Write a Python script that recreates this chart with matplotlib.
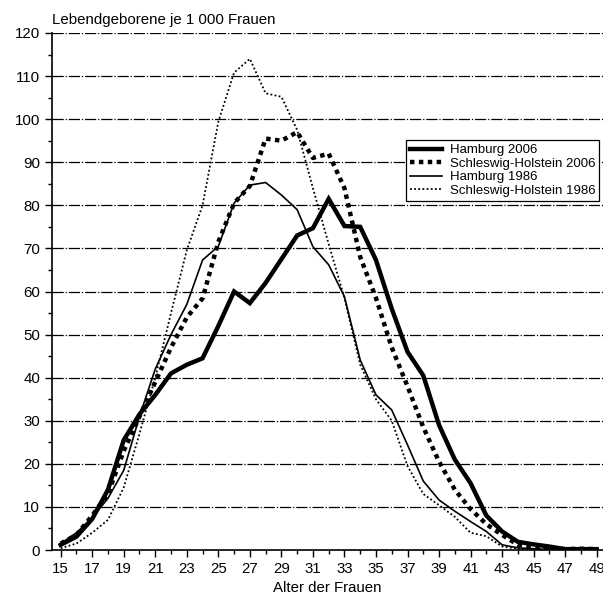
import matplotlib.pyplot as plt
from matplotlib.ticker import MultipleLocator

plt.rcParams['font.family'] = ['Liberation Sans', 'DejaVu Sans']

# Daten: Lebendgeborene je 1 000 Frauen nach Alter
alter = list(range(15, 50))

hamburg_2006 = [1.2, 3.1, 7.2, 14, 25.5, 31.5, 36, 41, 43, 44.5,
                52, 60, 57.3, 62, 67.5, 73, 74.7, 81.5, 75.2, 75,
                67.3, 56, 46, 40.5, 29, 21, 15.5, 8, 4.3, 1.9,
                1.3, 0.8, 0.2, 0.2, 0.2]
sh_2006 = [1.5, 3.5, 8, 13, 23, 31, 39, 47, 54, 58.4,
           71.5, 80.5, 84.5, 95.5, 95, 97, 91, 92, 84, 68,
           58.5, 47, 38, 28.5, 20.5, 14, 9.5, 6, 3.5, 1.2,
           0.8, 0.5, 0.2, 0.3, 0.2]
hamburg_1986 = [1.5, 4, 7.5, 12, 18.5, 31, 42, 50, 57, 67.3,
                70.5, 80.5, 84.7, 85.3, 82.4, 79, 70.4, 66.2, 58.8, 44.1,
                36, 32.5, 24.4, 16, 11.6, 9, 6.6, 4.3, 1.2, 0.5,
                0.3, 0.1, 0, 0, 0]
sh_1986 = [0.4, 1.5, 4, 7, 14.5, 27, 40, 55, 69.6, 80,
           99.4, 110.8, 114, 106, 105.2, 97.5, 84, 71, 58.5, 43,
           35, 30, 19.5, 13, 10.4, 7.7, 4, 3.2, 0.8, 0.3,
           0.2, 0.1, 0, 0, 0]

fig = plt.figure(figsize=(6.03, 5.97), dpi=100)
ax = fig.add_axes([52/603, 47/597, 551/603, 517/597])

# Gitternetz
for y in range(10, 130, 10):
    ax.axhline(y, color='k', lw=0.9, linestyle=(0, (9, 1.5, 1, 1.5)), zorder=1)

ax.plot(alter, hamburg_2006, color='k', lw=3.2, label='Hamburg 2006',
        solid_joinstyle='miter', zorder=3)
ax.plot(alter, sh_2006, color='k', lw=3.2, linestyle=(0, (1, 1)),
        dash_capstyle='butt', label='Schleswig-Holstein 2006', zorder=3)
ax.plot(alter, hamburg_1986, color='k', lw=1.2, label='Hamburg 1986', zorder=3)
ax.plot(alter, sh_1986, color='k', lw=1.3, linestyle=(0, (1, 1.3)),
        label='Schleswig-Holstein 1986', zorder=3)

ax.set_xlim(14.45, 49.4)
ax.set_ylim(0, 120)
ax.xaxis.set_minor_locator(MultipleLocator(1))
ax.set_xticks(range(15, 50, 2))
ax.yaxis.set_major_locator(MultipleLocator(10))
ax.yaxis.set_minor_locator(MultipleLocator(5))
ax.tick_params(axis='both', which='both', direction='out', labelsize=10.8, width=1)
ax.tick_params(axis='both', which='major', length=5)
ax.tick_params(axis='both', which='minor', length=3)
ax.spines['top'].set_visible(False)
ax.spines['right'].set_visible(False)
ax.spines['left'].set_linewidth(1.2)
ax.spines['bottom'].set_linewidth(1.2)

ax.set_xlabel('Alter der Frauen', fontsize=10.8, labelpad=4)
ax.text(0, 1.012, 'Lebendgeborene je 1 000 Frauen', transform=ax.transAxes,
        fontsize=10.8, ha='left', va='bottom')

leg = ax.legend(loc='upper right', bbox_to_anchor=(0.993, 0.793), fontsize=9.5,
                frameon=True, fancybox=False, edgecolor='k', framealpha=1,
                handlelength=2.4, borderpad=0.3, labelspacing=0.1,
                handletextpad=0.6, borderaxespad=0)
leg.get_frame().set_linewidth(0.9)

plt.savefig('out.png', dpi=100)
